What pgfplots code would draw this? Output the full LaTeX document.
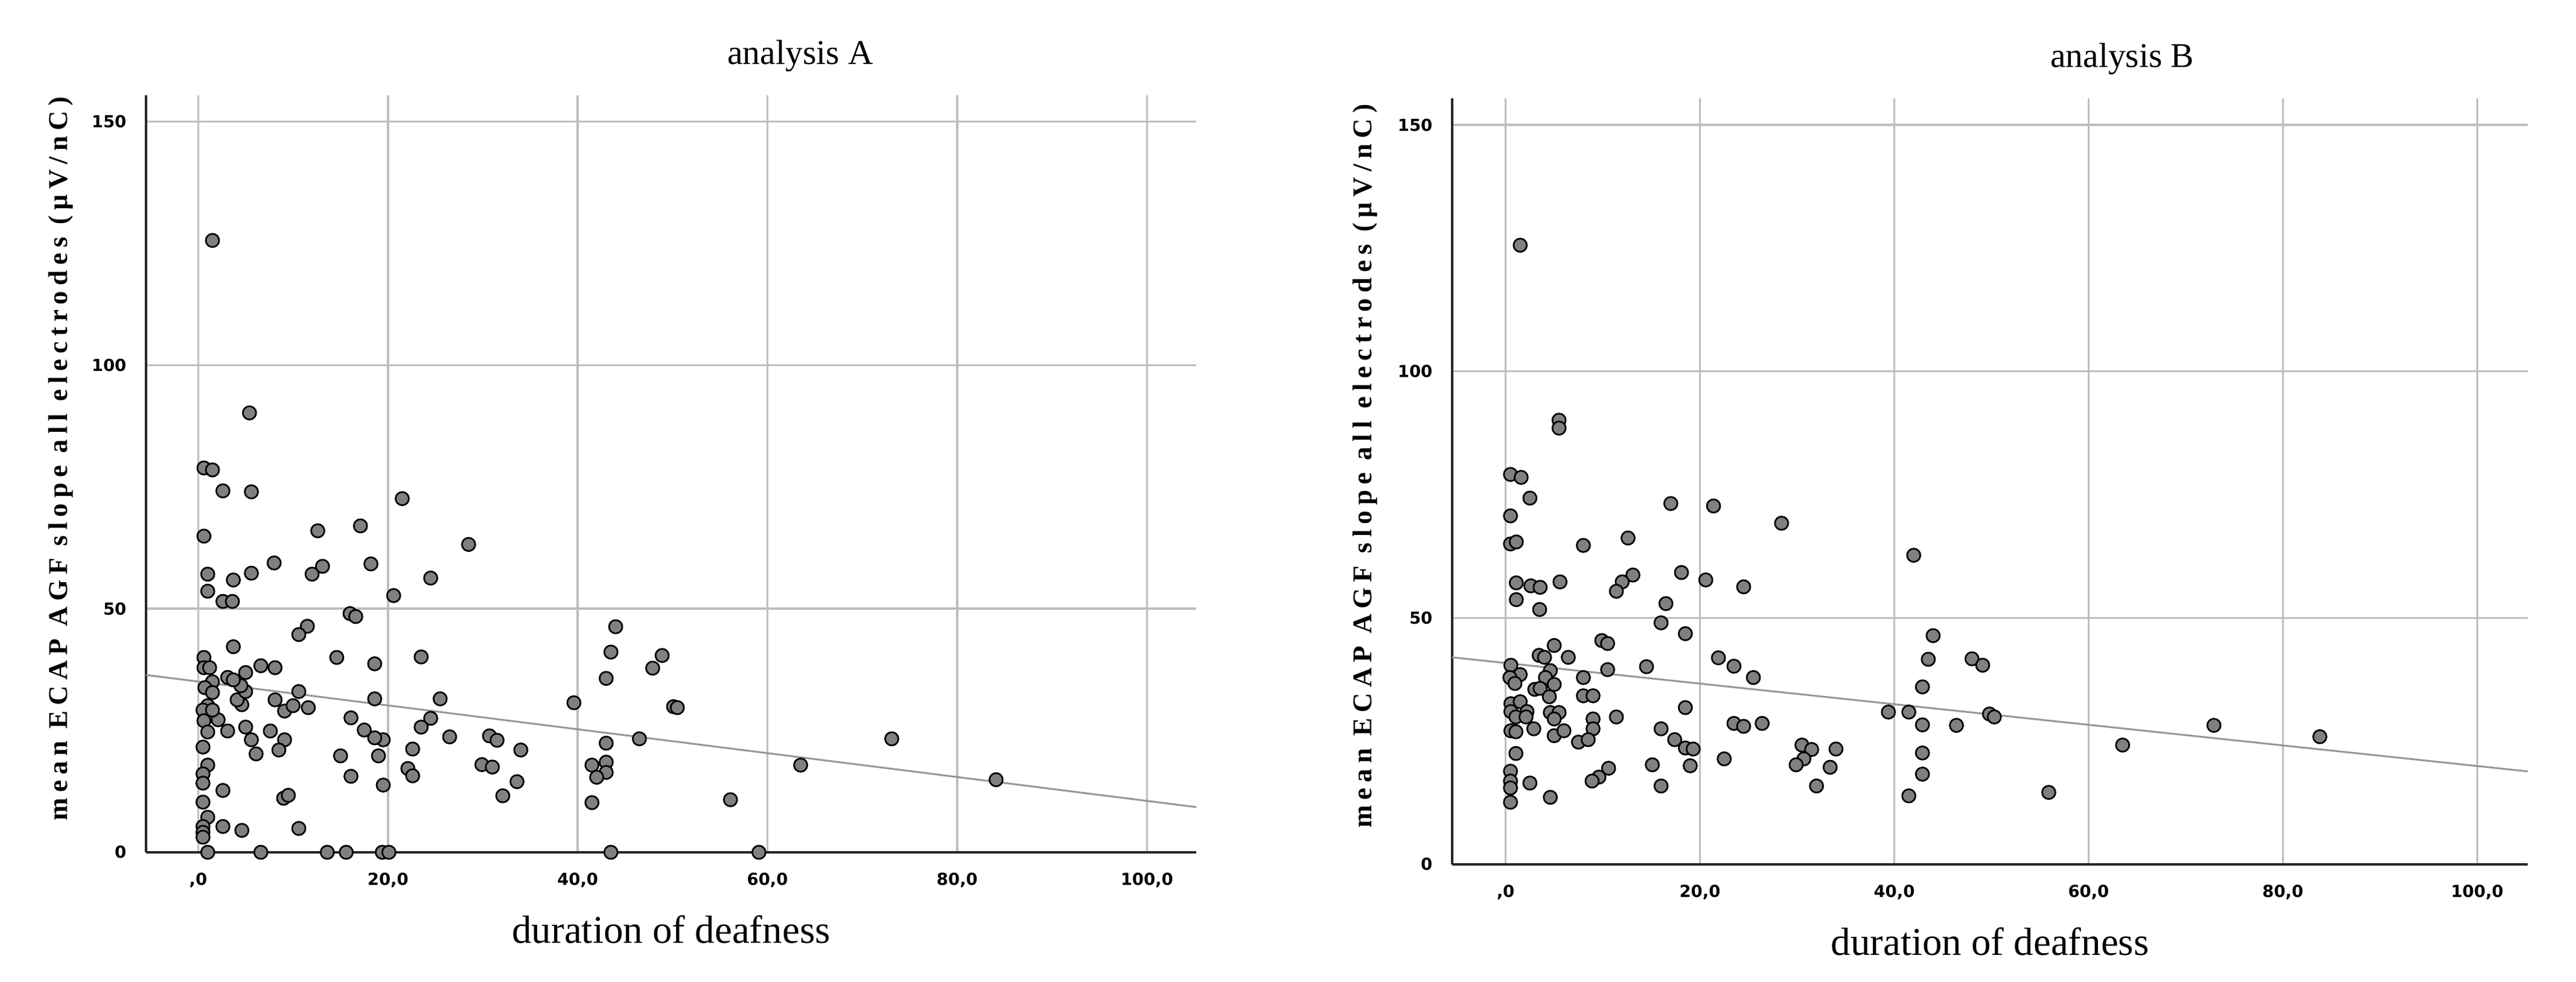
\documentclass[border=0pt]{standalone}
\usepackage{fontspec}
\setmainfont{Liberation Serif}
\newfontfamily\tickfont{DejaVu Sans}
\usepackage{pgfplots}
\usepackage{pgfplotstable}
\pgfplotsset{compat=1.18}

\definecolor{markgray}{RGB}{128,128,128}
\definecolor{gridgray}{RGB}{190,190,190}
\definecolor{fitgray}{RGB}{150,150,150}

% analysis A: duration of deafness vs mean ECAP AGF slope
\pgfplotstableread{
x y
1.5 125.6
5.4 90.2
0.6 78.9
1.5 78.5
2.6 74.2
5.6 74.0
21.5 72.6
17.1 67.0
12.6 66.0
0.6 64.9
28.5 63.2
8.0 59.4
18.2 59.2
13.1 58.7
12.0 57.1
1.0 57.1
3.7 55.9
5.6 57.3
24.5 56.3
1.0 53.6
2.6 51.5
3.6 51.5
20.6 52.7
16.0 49.0
16.6 48.4
44.0 46.3
11.5 46.4
10.6 44.7
3.7 42.2
14.6 40.0
23.5 40.1
43.5 41.1
48.9 40.4
47.9 37.8
18.6 38.7
0.6 40.0
0.6 37.9
1.2 37.9
6.6 38.3
8.1 37.9
43.0 35.7
39.6 30.7
50.1 29.9
50.5 29.7
18.6 31.5
25.5 31.5
24.5 27.5
23.5 25.7
26.5 23.7
30.7 23.9
31.5 23.0
34.0 21.0
46.5 23.3
73.1 23.3
43.0 22.4
22.6 21.2
19.5 23.1
18.6 23.5
17.5 25.1
19.0 19.8
15.0 19.8
29.9 18.0
31.0 17.5
41.5 17.9
43.0 18.5
43.0 16.4
42.0 15.4
63.5 17.9
22.1 17.2
22.6 15.7
16.1 15.6
33.6 14.5
84.1 14.9
19.5 13.8
32.1 11.6
41.5 10.2
56.1 10.8
9.0 11.1
9.5 11.7
10.6 4.9
4.6 4.5
2.6 5.3
2.6 12.7
9.1 23.1
8.5 21.0
7.6 24.9
6.1 20.2
5.6 23.1
5.0 25.7
4.6 30.3
4.1 31.3
5.0 33.0
4.5 34.2
5.0 36.9
3.1 35.9
3.7 35.4
8.1 31.3
9.1 29.0
10.0 30.1
10.6 33.0
11.6 29.7
3.1 24.9
2.1 27.2
1.5 35.0
0.7 33.8
1.5 32.8
1.0 30.1
0.5 29.2
1.5 29.2
0.6 27.0
1.0 24.7
0.5 21.6
1.0 17.9
0.5 16.1
0.5 14.2
0.5 10.3
1.0 7.2
0.5 5.3
0.5 4.1
0.5 3.1
16.1 27.6
1.0 0
6.6 0
13.6 0
15.6 0
19.4 0
20.1 0
43.5 0
59.1 0
}\dataA

% analysis B
\pgfplotstableread{
x y
1.5 125.6
5.5 90.1
5.5 88.5
0.5 79.1
1.6 78.5
2.5 74.3
17.0 73.2
21.4 72.7
28.4 69.2
0.5 70.7
0.5 65.0
1.1 65.4
12.6 66.2
8.0 64.7
42.0 62.7
18.1 59.2
20.6 57.7
13.1 58.7
12.0 57.3
11.4 55.4
5.6 57.3
1.1 57.1
2.6 56.5
3.55 56.2
24.5 56.3
1.1 53.7
3.5 51.7
16.5 52.9
16.0 49.0
18.5 46.8
44.0 46.4
9.9 45.4
10.5 44.8
5.0 44.4
3.45 42.4
4.0 42.0
6.45 42.0
21.9 41.9
23.5 40.2
14.5 40.1
43.5 41.6
48.0 41.7
49.1 40.4
10.5 39.5
25.5 37.9
8.0 37.9
42.9 36.0
39.4 30.9
41.5 30.9
49.8 30.5
50.3 29.9
18.5 31.8
23.5 28.6
24.5 28.0
26.4 28.6
46.4 28.2
42.9 28.3
72.9 28.2
83.8 25.9
63.5 24.2
16.0 27.5
17.4 25.3
18.5 23.6
19.3 23.4
30.5 24.2
31.5 23.3
34.0 23.4
22.5 21.4
30.7 21.4
29.9 20.2
33.4 19.7
42.9 22.6
15.1 20.2
19.0 20.0
32.0 15.9
16.0 15.9
42.9 18.3
41.5 13.9
55.9 14.6
10.6 19.5
9.6 17.7
8.9 16.9
2.5 16.5
4.6 13.6
0.5 18.9
0.5 16.9
0.5 15.5
0.5 12.6
1.06 22.5
0.54 40.4
1.5 38.5
0.44 37.9
0.96 36.7
4.6 39.3
4.1 37.9
5.0 36.5
3.0 35.5
3.55 35.7
4.5 34.0
8.0 34.2
9.0 34.2
0.54 32.6
1.5 33.0
0.54 31.0
2.2 31.0
1.06 29.9
2.1 29.9
4.6 30.8
5.5 30.8
5.0 29.5
11.4 29.9
9.0 29.5
9.0 27.5
0.54 27.1
1.06 26.9
2.9 27.5
5.0 26.1
6.0 27.1
7.5 24.8
8.5 25.3
}\dataB

\pgfplotsset{
  spssaxis/.style={
    scale only axis,
    anchor=south west,
    xmin=-5.5, xmax=105.2,
    ymin=0, ymax=155.4,
    axis x line*=bottom,
    axis y line*=left,
    axis line style={line width=0.9pt, black!85},
    xtick={0,20,40,60,80,100},
    xticklabels={{,0},{20,0},{40,0},{60,0},{80,0},{100,0}},
    ytick={0,50,100,150},
    yticklabels={0,50,100,150},
    major tick length=0pt,
    grid=major,
    major grid style={line width=0.7pt, gridgray},
    tick label style={font=\tickfont\bfseries\fontsize{5.5}{6}\selectfont},
    xticklabel style={yshift=-3.2pt},
    yticklabel style={xshift=-3pt},
    title style={at={(0.623,1)}, anchor=center, yshift=7pt,
      font=\fontsize{11.5}{13}\selectfont},
    xlabel style={at={(0.5,0)}, anchor=center, yshift=-25.5pt,
      font=\fontsize{13}{15}\selectfont},
    ylabel style={at={(axis description cs:-0.081,0.52)}, anchor=center,
      font=\bfseries\addfontfeature{LetterSpace=20}\fontsize{9}{10}\selectfont},
    xlabel={duration of deafness},
    ylabel={mean ECAP AGF slope all electrodes (µV/nC)},
    clip=false,
  },
  dots/.style={only marks, mark=*, mark size=2.2pt,
    mark options={fill=markgray, draw=black, line width=0.55pt}},
  fit/.style={no marks, color=fitgray, line width=0.6pt},
}

\begin{document}
\begin{tikzpicture}
\useasboundingbox (0,0) rectangle (853.6pt,325.6pt);

\begin{axis}[spssaxis, at={(48.4pt,43pt)}, width=348pt, height=251pt,
  title={analysis A}]
  \addplot[fit] coordinates {(-5.5,36.40) (105.2,9.28)};
  \addplot[dots] table {\dataA};
\end{axis}

\begin{axis}[spssaxis, at={(481.2pt,39pt)}, width=356.4pt, height=254pt,
  title={analysis B}]
  \addplot[fit] coordinates {(-5.5,42.0) (105.2,18.86)};
  \addplot[dots] table {\dataB};
\end{axis}
\end{tikzpicture}
\end{document}
